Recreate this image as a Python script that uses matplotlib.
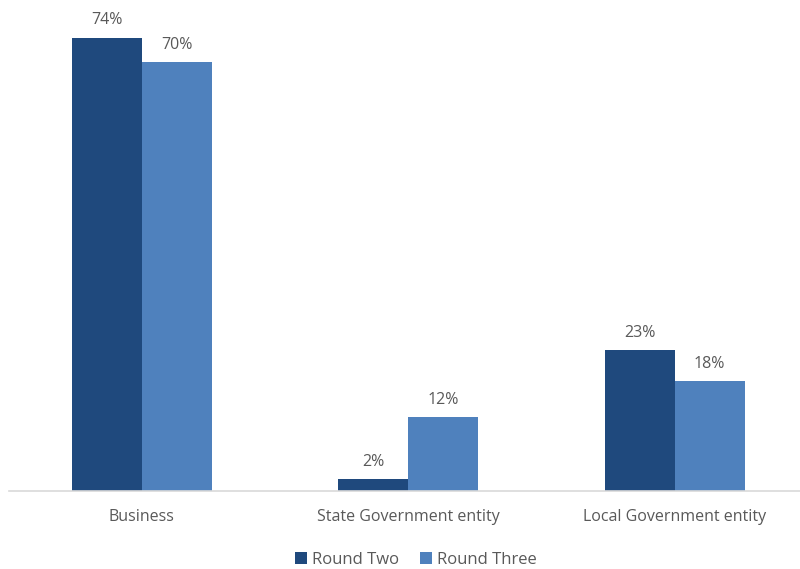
import matplotlib.pyplot as plt
import numpy as np

categories = ['Business', 'State Government entity', 'Local Government entity']
round_two = [74, 2, 23]
round_three = [70, 12, 18]
series_names = ['Round Two', 'Round Three']

dark = '#1F497D'
light = '#4F81BD'
grey = '#595959'

plt.rcParams['font.family'] = ['Open Sans', 'DejaVu Sans']

fig = plt.figure(figsize=(8, 5.69), dpi=100)
ax = fig.add_axes([9/800, 1 - 491/569, 1 - 9/800, 478/569])

x = np.arange(len(categories))
w = 0.262
b1 = ax.bar(x - w/2, round_two, w, color=dark, label=series_names[0])
b2 = ax.bar(x + w/2, round_three, w, color=light, label=series_names[1])

for bars in (b1, b2):
    for r in bars:
        ax.text(r.get_x() + r.get_width()/2, r.get_height() + 1.5,
                f'{r.get_height():.0f}%', ha='center', va='bottom',
                fontsize=11.5, color=grey)

ax.set_xlim(-0.498, 2.47)
ax.set_ylim(0, 78)
ax.set_xticks(x)
ax.set_xticklabels(categories, fontsize=11.5, color=grey)
ax.tick_params(axis='x', length=0, pad=13)
ax.set_yticks([])
for s in ['top', 'right', 'left']:
    ax.spines[s].set_visible(False)
ax.spines['bottom'].set_color('#D9D9D9')
ax.spines['bottom'].set_linewidth(1.2)

fig.legend(handles=[b1, b2], loc='center', bbox_to_anchor=(0.52, 1 - 560/569),
           ncol=2, frameon=False, fontsize=12, labelcolor=grey,
           handlelength=0.7, handleheight=0.7, handletextpad=0.3, columnspacing=1.3)

fig.savefig('out.png', dpi=100)
